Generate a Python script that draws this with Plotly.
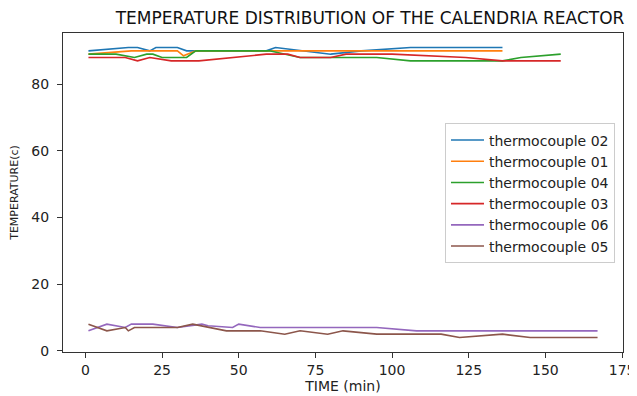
import plotly.graph_objects as go

# thermocouple 02
t02_x = [1, 14, 17, 21, 23, 30, 33, 59, 62, 80, 90, 106, 136]
t02_y = [90, 91, 91, 90, 91, 91, 90, 90, 91, 89, 90, 91, 91]
# thermocouple 01
t01_x = [1, 15, 25, 30, 32, 36, 60, 80, 100, 136]
t01_y = [89, 90, 90, 90, 88.5, 90, 90, 90, 90, 90]
# thermocouple 04
t04_x = [1, 10, 16, 20, 22, 25, 33, 36, 60, 70, 95, 106, 136, 142, 155]
t04_y = [89, 89, 88, 89, 89, 88, 88, 90, 90, 88, 88, 87, 87, 88, 89]
# thermocouple 03
t03_x = [1, 13, 17, 21, 28, 37, 59, 66, 70, 80, 85, 100, 124, 136, 155]
t03_y = [88, 88, 87, 88, 87, 87, 89, 89, 88, 88, 89, 89, 88, 87, 87]
# thermocouple 06
t06_x = [1, 7, 13, 15, 22, 30, 38, 40, 48, 50, 57, 95, 108, 167]
t06_y = [6, 8, 7, 8, 8, 7, 8, 7.5, 7, 8, 7, 7, 6, 6]
# thermocouple 05
t05_x = [1, 7, 13, 14, 16, 30, 35, 40, 46, 57, 65, 70, 79, 84, 95, 116, 122, 136, 145, 167]
t05_y = [8, 6, 7, 6, 7, 7, 8, 7, 6, 6, 5, 6, 5, 6, 5, 5, 4, 5, 4, 4]

series = [
    ("thermocouple 02", t02_x, t02_y, "#1f77b4"),
    ("thermocouple 01", t01_x, t01_y, "#ff7f0e"),
    ("thermocouple 04", t04_x, t04_y, "#2ca02c"),
    ("thermocouple 03", t03_x, t03_y, "#d62728"),
    ("thermocouple 06", t06_x, t06_y, "#9467bd"),
    ("thermocouple 05", t05_x, t05_y, "#8c564b"),
]

x_ticks = [0, 25, 50, 75, 100, 125, 150, 175]
y_ticks = [0, 20, 40, 60, 80]

# page body has an 8px margin, so the figure is sized 8px smaller
W, H = 629, 388

fig = go.Figure()
for name, xs, ys, col in series:
    fig.add_trace(go.Scatter(x=xs, y=ys, mode="lines", name=name,
                             line=dict(color=col, width=1.6)))

fig.update_layout(
    width=W, height=H,
    margin=dict(l=55, r=14, t=25, b=44),
    paper_bgcolor="white", plot_bgcolor="white",
    font=dict(family="DejaVu Sans", color="#222", size=14),
    title=dict(text="TEMPERATURE DISTRIBUTION OF THE CALENDRIA REACTOR",
               x=362 / W, xanchor="center", y=1 - 10 / H, yanchor="middle",
               font=dict(size=17, color="#111")),
    showlegend=True,
    legend=dict(x=0.9857, xanchor="right", y=0.497, yanchor="middle",
                bgcolor="white", bordercolor="#ccc", borderwidth=1,
                font=dict(size=14), tracegroupgap=0, itemwidth=33),
    xaxis=dict(range=[-7.3, 175.3], tickvals=x_ticks, showgrid=False, zeroline=False,
               showline=True, linecolor="#333", linewidth=1, mirror=True,
               ticks="outside", ticklen=5, tickcolor="#333", automargin=False,
               tickfont=dict(size=14),
               title=dict(text="TIME (min)", font=dict(size=14), standoff=1)),
    yaxis=dict(range=[-0.35, 95.35], tickvals=y_ticks, showgrid=False, zeroline=False,
               showline=True, linecolor="#333", linewidth=1, mirror=True,
               ticks="outside", ticklen=5, tickcolor="#333", automargin=False,
               tickfont=dict(size=14), ticklabelstandoff=5,
               title=dict(text="TEMPERATURE(c)", font=dict(size=11), standoff=16)),
)

fig.write_html("out.html")
